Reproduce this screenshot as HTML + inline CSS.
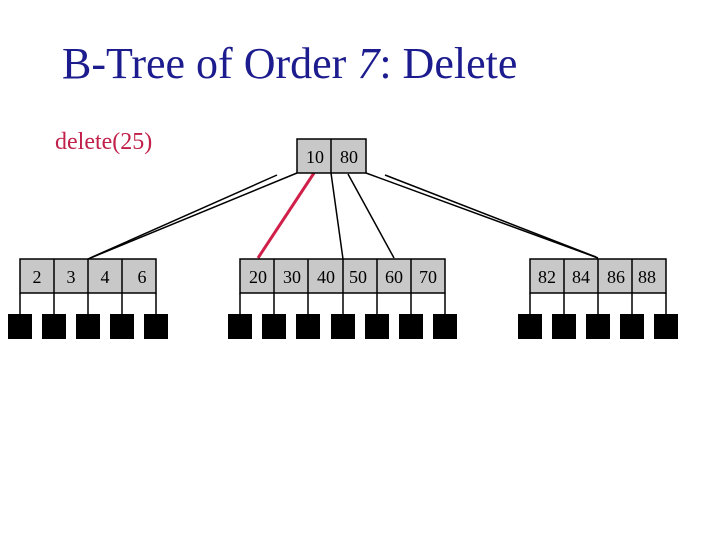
<!DOCTYPE html>
<html><head><meta charset="utf-8"><style>
body{margin:0;background:#fff;width:720px;height:540px;overflow:hidden}
svg text{font-family:"Liberation Serif",serif}
</style></head><body>
<svg width="720" height="540" viewBox="0 0 720 540" xmlns="http://www.w3.org/2000/svg">
<text x="62" y="78" font-size="44" fill="#1c1c8f">B-Tree of Order <tspan font-style="italic">7</tspan>: Delete</text>
<text x="55" y="149" font-size="24" fill="#c0204a">delete(25)</text>
<g stroke="#000" stroke-width="1.5" fill="none">
<line x1="297" y1="173" x2="88" y2="259"/>
<line x1="277" y1="175" x2="90" y2="258"/>
<line x1="331" y1="173" x2="343" y2="259"/>
<line x1="348" y1="174" x2="394" y2="258"/>
<line x1="366" y1="173" x2="598" y2="258"/>
<line x1="385" y1="175" x2="596" y2="257"/>
</g>
<line x1="314" y1="173" x2="258" y2="258" stroke="#d0204a" stroke-width="3"/>
<g stroke="#000" stroke-width="1.5" fill="#c8c8c8">
<rect x="297" y="139" width="69" height="34"/><line x1="331" y1="139" x2="331" y2="173"/>
<rect x="20" y="259" width="136" height="34"/>
<rect x="240" y="259" width="205" height="34"/>
<rect x="530" y="259" width="136" height="34"/>
</g>
<g stroke="#000" stroke-width="1.5">
<line x1="54" y1="259" x2="54" y2="293"/><line x1="88" y1="259" x2="88" y2="293"/><line x1="122" y1="259" x2="122" y2="293"/>
<line x1="274" y1="259" x2="274" y2="293"/><line x1="308" y1="259" x2="308" y2="293"/><line x1="343" y1="259" x2="343" y2="293"/><line x1="377" y1="259" x2="377" y2="293"/><line x1="411" y1="259" x2="411" y2="293"/>
<line x1="564" y1="259" x2="564" y2="293"/><line x1="598" y1="259" x2="598" y2="293"/><line x1="632" y1="259" x2="632" y2="293"/>
<line x1="20" y1="293" x2="20" y2="315"/><line x1="54" y1="293" x2="54" y2="315"/><line x1="88" y1="293" x2="88" y2="315"/><line x1="122" y1="293" x2="122" y2="315"/><line x1="156" y1="293" x2="156" y2="315"/>
<line x1="240" y1="293" x2="240" y2="315"/><line x1="274" y1="293" x2="274" y2="315"/><line x1="308" y1="293" x2="308" y2="315"/><line x1="343" y1="293" x2="343" y2="315"/><line x1="377" y1="293" x2="377" y2="315"/><line x1="411" y1="293" x2="411" y2="315"/><line x1="445" y1="293" x2="445" y2="315"/>
<line x1="530" y1="293" x2="530" y2="315"/><line x1="564" y1="293" x2="564" y2="315"/><line x1="598" y1="293" x2="598" y2="315"/><line x1="632" y1="293" x2="632" y2="315"/><line x1="666" y1="293" x2="666" y2="315"/>
</g>
<g fill="#000">
<rect x="8" y="314" width="24" height="25"/><rect x="42" y="314" width="24" height="25"/><rect x="76" y="314" width="24" height="25"/><rect x="110" y="314" width="24" height="25"/><rect x="144" y="314" width="24" height="25"/>
<rect x="228" y="314" width="24" height="25"/><rect x="262" y="314" width="24" height="25"/><rect x="296" y="314" width="24" height="25"/><rect x="331" y="314" width="24" height="25"/><rect x="365" y="314" width="24" height="25"/><rect x="399" y="314" width="24" height="25"/><rect x="433" y="314" width="24" height="25"/>
<rect x="518" y="314" width="24" height="25"/><rect x="552" y="314" width="24" height="25"/><rect x="586" y="314" width="24" height="25"/><rect x="620" y="314" width="24" height="25"/><rect x="654" y="314" width="24" height="25"/>
</g>
<g font-size="18" fill="#000" text-anchor="middle">
<text x="315" y="163">10</text><text x="349" y="163">80</text>
<text x="37" y="283">2</text><text x="71" y="283">3</text><text x="105" y="283">4</text><text x="142" y="283">6</text>
<text x="258" y="283">20</text><text x="292" y="283">30</text><text x="326" y="283">40</text><text x="358" y="283">50</text><text x="394" y="283">60</text><text x="428" y="283">70</text>
<text x="547" y="283">82</text><text x="581" y="283">84</text><text x="616" y="283">86</text><text x="647" y="283">88</text>
</g>
</svg>
</body></html>
